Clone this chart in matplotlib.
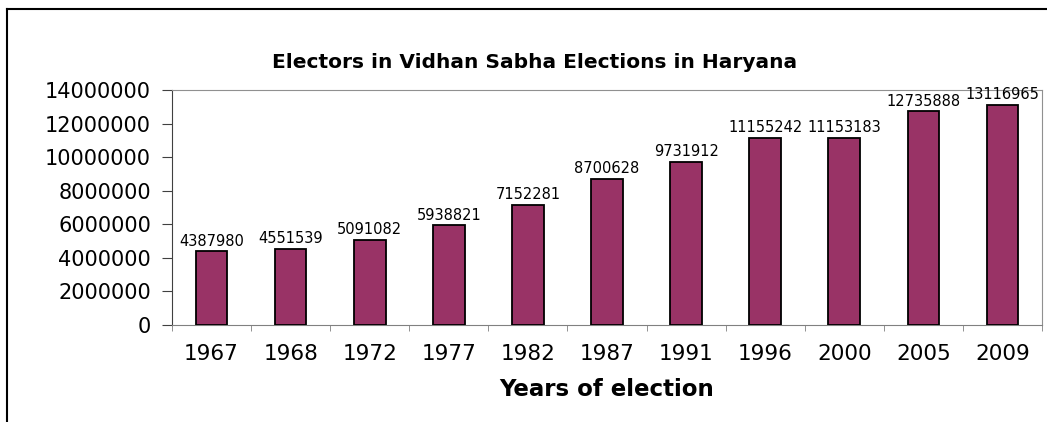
import matplotlib.pyplot as plt

plt.rcParams['font.family'] = ['DejaVu Sans']

years = ['1967', '1968', '1972', '1977', '1982', '1987', '1991', '1996', '2000', '2005', '2009']
electors = [4387980, 4551539, 5091082, 5938821, 7152281, 8700628, 9731912,
            11155242, 11153183, 12735888, 13116965]

fig = plt.figure(figsize=(10.47, 4.22), dpi=100)
ax = fig.add_axes([172 / 1047, 1 - 325 / 422, (1042 - 172) / 1047, (325 - 90) / 422])

# outer chart frame (only left and top edges show)
fig.add_artist(plt.Line2D([7 / 1047, 7 / 1047], [0, 1 - 9 / 422], transform=fig.transFigure,
                          color='black', lw=1.5))
fig.add_artist(plt.Line2D([7 / 1047, 1], [1 - 9 / 422, 1 - 9 / 422], transform=fig.transFigure,
                          color='black', lw=1.5))

x = range(len(years))
ax.bar(x, electors, width=0.4, color='#993366', edgecolor='black', linewidth=1.3, zorder=3)

for i, v in enumerate(electors):
    ax.text(i, v + 150000, str(v), ha='center', va='bottom', fontsize=10.5)

ax.set_xlim(-0.5, len(years) - 0.5)
ax.set_ylim(0, 14000000)
ax.set_yticks(range(0, 14000001, 2000000))
ax.set_yticklabels([str(t) for t in range(0, 14000001, 2000000)], fontsize=15)
ax.set_xticks(list(x))
ax.set_xticklabels(years, fontsize=15.5)
ax.tick_params(axis='x', length=0, pad=14)
ax.set_xticks([i + 0.5 for i in range(-1, len(years))], minor=True)
ax.tick_params(axis='x', which='minor', length=4.5, color='#808080', direction='out')
ax.tick_params(axis='y', length=7, color='#404040', direction='out', pad=8)

for side in ['top', 'right']:
    ax.spines[side].set_color('#909090')
ax.spines['left'].set_color('#404040')
ax.spines['bottom'].set_color('#808080')

fig.text(535 / 1047, 1 - 62 / 422, 'Electors in Vidhan Sabha Elections in Haryana',
         ha='center', va='center', fontsize=14.5, fontweight='bold')
fig.text(607 / 1047, 1 - 390 / 422, 'Years of election',
         ha='center', va='center', fontsize=16.5, fontweight='bold')

fig.savefig('out.png', dpi=100)
